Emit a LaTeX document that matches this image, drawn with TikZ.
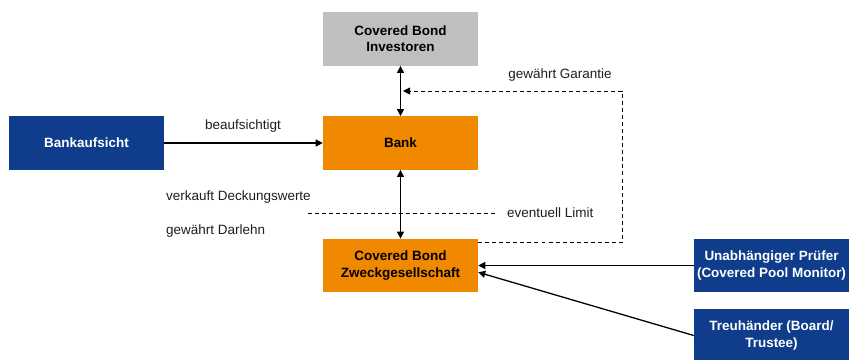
\documentclass[tikz,border=0pt]{standalone}
\usepackage{fontspec}
\setmainfont{Liberation Sans}
\usepackage{tikz}
\usetikzlibrary{arrows.meta,positioning}
\definecolor{cborange}{RGB}{240,136,0}
\definecolor{cbnavy}{RGB}{15,61,140}
\definecolor{cbgray}{RGB}{191,191,191}
\definecolor{cbtext}{RGB}{30,30,30}
\tikzstyle{akteur}=[minimum width=4.65cm, minimum height=1.6cm, inner sep=2pt, align=center, font=\fontsize{11.5}{13.8}\selectfont\bfseries]
\tikzstyle{bankbox}=[akteur, fill=cborange, text=black]
\tikzstyle{investorbox}=[akteur, fill=cbgray, text=black]
\tikzstyle{aufsichtbox}=[akteur, fill=cbnavy, text=white]
\tikzstyle{fluss}=[-{Triangle[length=6pt,width=6pt]}, line width=1.1pt]
\tikzstyle{doppelfluss}=[{Triangle[length=6pt,width=6pt]}-{Triangle[length=6pt,width=6pt]}, line width=1.1pt]
\tikzstyle{limit}=[line width=0.8pt, dash pattern=on 3.4pt off 2.6pt]
\tikzstyle{beschriftung}=[text=cbtext, inner sep=0pt, font=\fontsize{11.5}{13.8}\selectfont]

\begin{document}
\begin{tikzpicture}[x=0.03cm, y=-0.03cm]
        \useasboundingbox (0,0) rectangle (866,359);

        % Akteure
        \node[investorbox] (investoren) at (400.5,39) {Covered Bond\\Investoren};
        \node[bankbox] (bank) at (400.5,143) {Bank};
        \node[aufsichtbox] (bankaufsicht) at (86.5,143) {Bankaufsicht};
        \node[bankbox] (zweck) at (400.5,265.5) {Covered Bond\\Zweckgesellschaft};
        \node[aufsichtbox] (pruefer) at (771.5,265.5) {Unabhängiger Prüfer\\(Covered Pool Monitor)};
        \node[aufsichtbox] (treuhaender) at (771.5,335.5) {Treuhänder (Board/\\Trustee)};

        % Beziehungen
        \draw[doppelfluss] (investoren) -- (bank);
        \draw[doppelfluss] (bank) -- (zweck);
        \draw[fluss] (bankaufsicht) -- (bank);
        \node[beschriftung] (beaufsichtigt) at (243,126) {beaufsichtigt};
        \draw[fluss] (pruefer.west) -- (zweck.east);
        \draw[fluss] (treuhaender.west) -- (zweck.-5);

        % Garantie (gestrichelt)
        \coordinate (garantieknick) at (622,91);
        \coordinate (garantie) at (403,91);
        \draw[limit, -{Triangle[length=6pt,width=6pt]}] ([yshift=-0.12cm]zweck.north east) -| (garantieknick) -- (garantie);
        \node[beschriftung] (gewaehrtgarantie) at (560,75) {gewährt Garantie};

        % Deckungswerte / Darlehn
        \node[beschriftung, anchor=west] (deckungswerte) at (166,197) {verkauft Deckungswerte};
        \node[beschriftung, anchor=west] (darlehn) at (166,231) {gewährt Darlehn};
        \coordinate (limitstart) at (308,213);
        \node[beschriftung, anchor=west, inner xsep=0.3cm] (eventuelllimit) at (497,213) {eventuell Limit};
        \draw[limit] (limitstart) -- (eventuelllimit.west);
\end{tikzpicture}
\end{document}
